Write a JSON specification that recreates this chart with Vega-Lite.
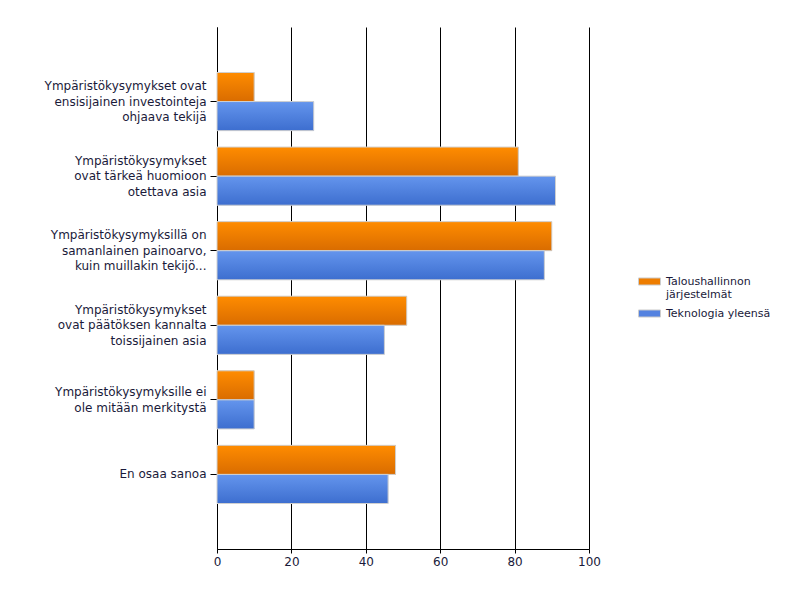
{
  "$schema": "https://vega.github.io/schema/vega-lite/v6.json",
  "autosize": "none",
  "width": 372,
  "height": 522,
  "padding": {"left": 217, "top": 27, "right": 211, "bottom": 51},
  "background": "white",
  "data": {"values": [
    {"cat": "Ympäristökysymykset ovat|ensisijainen investointeja|ohjaava tekijä", "series": "Taloushallinnon järjestelmät", "value": 10},
    {"cat": "Ympäristökysymykset ovat|ensisijainen investointeja|ohjaava tekijä", "series": "Teknologia yleensä", "value": 26},
    {"cat": "Ympäristökysymykset|ovat tärkeä huomioon|otettava asia", "series": "Taloushallinnon järjestelmät", "value": 81},
    {"cat": "Ympäristökysymykset|ovat tärkeä huomioon|otettava asia", "series": "Teknologia yleensä", "value": 91},
    {"cat": "Ympäristökysymyksillä on|samanlainen painoarvo,|kuin muillakin tekijö...", "series": "Taloushallinnon järjestelmät", "value": 90},
    {"cat": "Ympäristökysymyksillä on|samanlainen painoarvo,|kuin muillakin tekijö...", "series": "Teknologia yleensä", "value": 88},
    {"cat": "Ympäristökysymykset|ovat päätöksen kannalta|toissijainen asia", "series": "Taloushallinnon järjestelmät", "value": 51},
    {"cat": "Ympäristökysymykset|ovat päätöksen kannalta|toissijainen asia", "series": "Teknologia yleensä", "value": 45},
    {"cat": "Ympäristökysymyksille ei|ole mitään merkitystä", "series": "Taloushallinnon järjestelmät", "value": 10},
    {"cat": "Ympäristökysymyksille ei|ole mitään merkitystä", "series": "Teknologia yleensä", "value": 10},
    {"cat": "En osaa sanoa", "series": "Taloushallinnon järjestelmät", "value": 48},
    {"cat": "En osaa sanoa", "series": "Teknologia yleensä", "value": 46}
  ]},
  "encoding": {
    "y": {
      "field": "cat", "type": "nominal", "sort": null,
      "scale": {"paddingInner": 0.22, "paddingOuter": 0.61},
      "axis": {
        "title": null,
        "labelExpr": "split(datum.label, '|')",
        "labelOffset": {"expr": "-(length(split(datum.label, '|')) - 1) * 7.75"},
        "labelFont": "DejaVu Sans", "labelFontSize": 12, "labelColor": "#1a1a3a",
        "labelLineHeight": 15.5, "labelLimit": 300, "labelPadding": 4,
        "tickSize": 7, "tickColor": "#000000", "domainColor": "#000000",
        "grid": false
      }
    },
    "yOffset": {"field": "series", "type": "nominal", "sort": ["Taloushallinnon järjestelmät", "Teknologia yleensä"]},
    "x": {
      "field": "value", "type": "quantitative",
      "scale": {"domain": [0, 100], "nice": false},
      "axis": {
        "title": null, "values": [0, 20, 40, 60, 80, 100],
        "labelFont": "DejaVu Sans", "labelFontSize": 12, "labelColor": "#1a1a3a",
        "labelPadding": 3, "tickSize": 4, "tickColor": "#000000", "domainColor": "#000000",
        "grid": true, "gridColor": "#000000", "gridOpacity": 1, "gridWidth": 1,
        "labelFlush": false
      }
    }
  },
  "layer": [
    {
      "mark": {"type": "bar"},
      "encoding": {
        "color": {
          "field": "series", "type": "nominal",
          "sort": ["Taloushallinnon järjestelmät", "Teknologia yleensä"],
          "scale": {
            "domain": ["Taloushallinnon järjestelmät", "Teknologia yleensä"],
            "range": ["#ee7d00", "#5482e0"]
          },
          "legend": {
            "title": null, "orient": "none", "legendX": 421, "legendY": 243,
            "labelExpr": "datum.label == 'Taloushallinnon järjestelmät' ? ['Taloushallinnon', 'järjestelmät'] : datum.label",
            "labelFont": "DejaVu Sans", "labelFontSize": 11, "labelColor": "#1a1a3a",
            "labelLineHeight": 12, "labelOffset": 5,
            "symbolType": "M-1,-0.32H1V0.32H-1Z", "symbolSize": 484,
            "symbolStrokeColor": "#cccccc", "symbolStrokeWidth": 1, "symbolOpacity": 1,
            "rowPadding": 2, "padding": 0
          }
        }
      }
    },
    {
      "mark": {"type": "bar", "stroke": "#d0d0d0", "strokeWidth": 1},
      "encoding": {
        "fill": {
          "condition": {
            "test": "datum.series == 'Taloushallinnon järjestelmät'",
            "value": {"gradient": "linear", "x1": 0, "y1": 0, "x2": 0, "y2": 1, "stops": [{"offset": 0, "color": "#ff8c00"}, {"offset": 1, "color": "#d96c00"}]}
          },
          "value": {"gradient": "linear", "x1": 0, "y1": 0, "x2": 0, "y2": 1, "stops": [{"offset": 0, "color": "#6495ed"}, {"offset": 1, "color": "#3d6ecf"}]}
        }
      }
    }
  ],
  "config": {"view": {"stroke": null}}
}
